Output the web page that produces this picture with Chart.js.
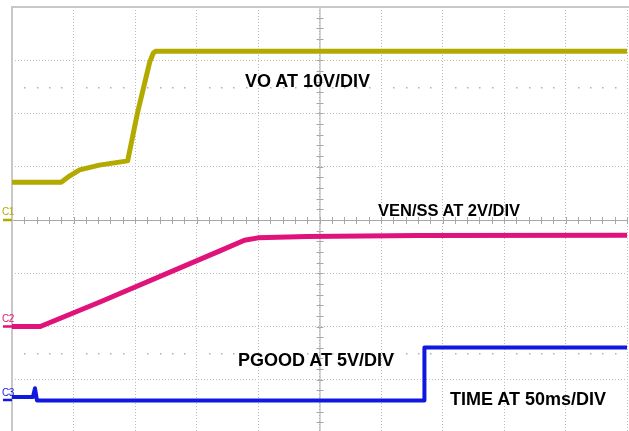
<!DOCTYPE html>
<html>
<head>
<meta charset="utf-8">
<script src="https://cdn.jsdelivr.net/npm/chart.js@4"></script>
<style>
	html, body { margin: 0; padding: 0; background: #fff; overflow: hidden; }
	#wrap { position: relative; width: 629px; height: 431px; }
	canvas { position: absolute; left: 0; top: 0; }
	.note { position: absolute; font-family: "Liberation Sans", Arial, sans-serif; font-weight: bold; color: #000; white-space: nowrap; line-height: 1; }
	.ch { position: absolute; font-family: "Liberation Sans Narrow", "Liberation Sans", Arial, sans-serif; font-size: 10px; line-height: 1; letter-spacing: -0.5px; }
</style>
</head>
<body>
<div id="wrap">
	<canvas id="scopeChart" width="629" height="434"></canvas>
	<div class="note" style="left:245px; top:72px; font-size:18px;">VO AT 10V/DIV</div>
	<div class="note" style="left:378px; top:202px; font-size:16.5px;">VEN/SS AT 2V/DIV</div>
	<div class="note" style="left:238px; top:351px; font-size:18px;">PGOOD AT 5V/DIV</div>
	<div class="note" style="left:450px; top:390px; font-size:18px;">TIME AT 50ms/DIV</div>
	<div class="ch" style="left:2px; top:207px; color:#b3aa00;">C1</div>
	<div class="ch" style="left:2px; top:314px; color:#e0137a;">C2</div>
	<div class="ch" style="left:2px; top:388px; color:#1018e0;">C3</div>
</div>
<script>
// time in ms (50 ms/div), values in volts
const voTime  = [0, 40, 47, 55, 71, 94, 102, 112, 115, 117, 500];
const voVolts = [7.1, 7.1, 8.3, 9.4, 10.3, 11.1, 20.1, 29.7, 31.4, 31.7, 31.7];

const ssTime  = [0, 23, 72, 169, 189, 200, 240, 330, 500];
const ssVolts = [0, 0, 0.93, 2.84, 3.24, 3.33, 3.38, 3.42, 3.43];

const pgTime  = [0, 17, 18.7, 20.3, 335, 335.3, 500];
const pgVolts = [0.28, 0.28, 1.1, -0.05, -0.05, 4.93, 4.93];

// channel settings: volts per division and ground offset (divisions from bottom)
const voltsPerDiv = [10, 2, 5];
const groundDiv = [4.0, 2.0, 0.62];
const traceColors = ['#b3aa00', '#e0137a', '#1018e0'];

function toDiv(times, volts, ch) {
	return times.map(function(t, i) {
		return { x: t, y: groundDiv[ch] + volts[i] / voltsPerDiv[ch] };
	});
}

const scopePlugin = {
	id: 'scope',
	beforeDatasetsDraw(chart) {
		const ctx = chart.ctx;
		const a = chart.chartArea;
		const x = chart.scales.x, y = chart.scales.y;
		ctx.save();
		// center cross with minor ticks
		const cx = x.getPixelForValue(250), cy = y.getPixelForValue(4);
		ctx.strokeStyle = '#a8a8a8';
		ctx.lineWidth = 1;
		ctx.beginPath();
		ctx.moveTo(a.left, cy + 0.5); ctx.lineTo(a.right, cy + 0.5);
		ctx.moveTo(cx + 0.5, a.top); ctx.lineTo(cx + 0.5, a.bottom);
		for (let t = 0; t <= 500; t += 10) {
			const px = Math.round(x.getPixelForValue(t)) + 0.5;
			ctx.moveTo(px, cy - 3); ctx.lineTo(px, cy + 4);
		}
		for (let d = 0; d <= 8.001; d += 0.2) {
			const py = Math.round(y.getPixelForValue(d)) + 0.5;
			ctx.moveTo(cx - 3, py); ctx.lineTo(cx + 4, py);
		}
		ctx.stroke();
		// sparse dot rows
		ctx.fillStyle = '#b0b0b0';
		[1.5, 6.5].forEach(function(r) {
			const py = Math.round(y.getPixelForValue(r));
			for (let t = 10; t < 500; t += 10) {
				if (t % 50 === 0) continue;
				ctx.fillRect(Math.round(x.getPixelForValue(t)), py, 1.5, 1.5);
			}
		});
		// left and top frame
		ctx.strokeStyle = '#c8c8c8';
		ctx.lineWidth = 2;
		ctx.beginPath();
		ctx.moveTo(a.left, a.bottom); ctx.lineTo(a.left, a.top); ctx.lineTo(a.right + 2, a.top);
		ctx.stroke();
		ctx.restore();
	},
	afterDatasetsDraw(chart) {
		const ctx = chart.ctx;
		const a = chart.chartArea;
		const y = chart.scales.y;
		ctx.save();
		ctx.lineWidth = 2.5;
		groundDiv.forEach(function(g, i) {
			const py = y.getPixelForValue(g);
			ctx.strokeStyle = traceColors[i];
			ctx.beginPath();
			ctx.moveTo(3, py); ctx.lineTo(a.left, py);
			ctx.stroke();
		});
		ctx.restore();
	}
};

const axisOpts = function(max, step) {
	return {
		type: 'linear',
		min: 0,
		max: max,
		ticks: { display: false, stepSize: step },
		grid: { color: '#bcbcbc', drawTicks: false, lineWidth: 1 },
		border: { display: false, dash: [1, 2] }
	};
};

const ctx = document.getElementById('scopeChart').getContext('2d');
const chart = new Chart(ctx, {
	type: 'line',
	data: {
		datasets: [
			{ label: 'VO', data: toDiv(voTime, voVolts, 0), borderColor: traceColors[0], borderWidth: 5 },
			{ label: 'VEN/SS', data: toDiv(ssTime, ssVolts, 1), borderColor: traceColors[1], borderWidth: 5 },
			{ label: 'PGOOD', data: toDiv(pgTime, pgVolts, 2), borderColor: traceColors[2], borderWidth: 4 }
		]
	},
	options: {
		responsive: false,
		animation: false,
		devicePixelRatio: 1,
		layout: { padding: { left: 12, top: 7, right: 2, bottom: 1 } },
		elements: { point: { radius: 0 }, line: { tension: 0, borderJoinStyle: 'round' } },
		plugins: { legend: { display: false }, tooltip: { enabled: false } },
		scales: {
			x: axisOpts(500, 50),
			y: axisOpts(8, 1)
		}
	},
	plugins: [scopePlugin]
});
</script>
</body>
</html>
